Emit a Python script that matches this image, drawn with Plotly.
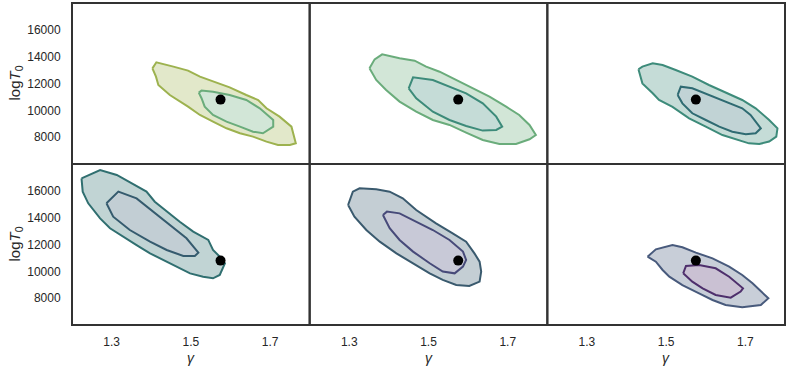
import plotly.graph_objects as go
from plotly.subplots import make_subplots

# ---- data (gamma, T0) ----
best_gamma = [1.575]
best_T0 = [10800]

p1_outer_x = [1.403, 1.413, 1.456, 1.493, 1.523, 1.556, 1.598, 1.640, 1.670, 1.691, 1.724, 1.754, 1.765, 1.750, 1.720, 1.691, 1.657, 1.624, 1.590, 1.556, 1.523, 1.493, 1.472, 1.447, 1.418, 1.412]
p1_outer_y = [13130, 13580, 13260, 12960, 12510, 12140, 11715, 11145, 10770, 10150, 9530, 8785, 7540, 7420, 7420, 7670, 8040, 8290, 8660, 9160, 9655, 10275, 10650, 11145, 11890, 12510]
p1_inner_x = [1.520, 1.527, 1.556, 1.598, 1.640, 1.674, 1.708, 1.708, 1.682, 1.657, 1.624, 1.590, 1.556, 1.535, 1.527]
p1_inner_y = [11320, 11470, 11390, 11145, 10770, 10150, 9280, 8785, 8290, 8410, 8785, 9160, 9655, 10275, 10900]

p2_outer_x = [1.351, 1.364, 1.383, 1.427, 1.465, 1.494, 1.528, 1.570, 1.612, 1.654, 1.696, 1.729, 1.755, 1.771, 1.755, 1.721, 1.679, 1.637, 1.595, 1.553, 1.511, 1.469, 1.427, 1.393, 1.368]
p2_outer_y = [13130, 13800, 14175, 13880, 13700, 13260, 12880, 12260, 11640, 11020, 10275, 9655, 8910, 8160, 7840, 7490, 7490, 7790, 8340, 8910, 9280, 9900, 10650, 11520, 12260]
p2_inner_x = [1.450, 1.461, 1.511, 1.553, 1.595, 1.637, 1.671, 1.686, 1.671, 1.637, 1.595, 1.553, 1.511, 1.469]
p2_inner_y = [11640, 12460, 12260, 11765, 11270, 10520, 9530, 8785, 8540, 8490, 8830, 9280, 9900, 10900]

p3_outer_x = [1.430, 1.440, 1.466, 1.491, 1.524, 1.566, 1.608, 1.650, 1.692, 1.726, 1.760, 1.781, 1.778, 1.760, 1.735, 1.709, 1.676, 1.642, 1.600, 1.558, 1.516, 1.482, 1.466, 1.440]
p3_outer_y = [13060, 13260, 13500, 13380, 13010, 12510, 11890, 11320, 10770, 10150, 9280, 8660, 8040, 7670, 7490, 7540, 7840, 8160, 8785, 9405, 10250, 10770, 11270, 12010]
p3_inner_x = [1.529, 1.537, 1.566, 1.608, 1.650, 1.692, 1.713, 1.739, 1.726, 1.701, 1.667, 1.634, 1.600, 1.566, 1.541]
p3_inner_y = [11145, 11765, 11640, 11145, 10650, 10150, 9655, 8660, 8290, 8210, 8410, 8785, 9280, 9780, 10520]

p4_outer_x = [1.224, 1.271, 1.313, 1.359, 1.388, 1.409, 1.439, 1.472, 1.506, 1.544, 1.556, 1.573, 1.586, 1.573, 1.556, 1.531, 1.498, 1.464, 1.430, 1.397, 1.363, 1.329, 1.296, 1.271, 1.241, 1.227]
p4_outer_y = [16930, 17550, 17180, 16435, 15940, 15190, 14450, 13700, 12960, 12340, 11590, 11095, 10600, 9730, 9480, 9600, 9850, 10350, 10850, 11340, 11960, 12590, 13210, 13950, 15070, 15940]
p4_inner_x = [1.287, 1.317, 1.363, 1.405, 1.447, 1.489, 1.519, 1.510, 1.481, 1.439, 1.397, 1.346, 1.304]
p4_inner_y = [15070, 15940, 15440, 14450, 13450, 12460, 11390, 11145, 11145, 11590, 12210, 13080, 14075]

p5_outer_x = [1.297, 1.309, 1.326, 1.368, 1.402, 1.435, 1.469, 1.519, 1.561, 1.595, 1.616, 1.629, 1.633, 1.629, 1.603, 1.570, 1.536, 1.503, 1.461, 1.419, 1.377, 1.343, 1.313]
p5_outer_y = [14945, 15940, 16190, 16110, 15940, 15440, 14570, 13580, 12830, 12210, 11340, 10720, 9980, 9230, 8910, 8980, 9360, 9850, 10600, 11340, 12210, 13080, 14075]
p5_inner_x = [1.385, 1.395, 1.427, 1.469, 1.511, 1.553, 1.587, 1.595, 1.587, 1.566, 1.536, 1.503, 1.461, 1.427, 1.402]
p5_inner_y = [14200, 14450, 14320, 13700, 13080, 12340, 11470, 10850, 10350, 9850, 9980, 10600, 11470, 12340, 13210]

p6_outer_x = [1.453, 1.474, 1.516, 1.541, 1.575, 1.617, 1.659, 1.692, 1.718, 1.739, 1.758, 1.739, 1.692, 1.650, 1.617, 1.583, 1.541, 1.508, 1.491, 1.474]
p6_outer_y = [11095, 11640, 11960, 11790, 11390, 10970, 10350, 9730, 9110, 8490, 7990, 7490, 7320, 7490, 7865, 8360, 8980, 9600, 10100, 10720]
p6_inner_x = [1.543, 1.550, 1.583, 1.625, 1.659, 1.694, 1.688, 1.663, 1.625, 1.592, 1.566]
p6_inner_y = [9850, 10400, 10470, 10225, 9600, 8735, 8490, 8040, 8240, 8735, 9230]

x_ticks = [1.3, 1.5, 1.7]
y_ticks = [8000, 10000, 12000, 14000, 16000]
x_title = "<i>γ</i>"
y_title = "log<i>T</i><sub>0</sub>"

panels = [
    (p1_outer_x, p1_outer_y, p1_inner_x, p1_inner_y, "#9db24f", "#6aac7b"),
    (p2_outer_x, p2_outer_y, p2_inner_x, p2_inner_y, "#6aac7b", "#3d8b7a"),
    (p3_outer_x, p3_outer_y, p3_inner_x, p3_inner_y, "#3d8b7a", "#2f6b72"),
    (p4_outer_x, p4_outer_y, p4_inner_x, p4_inner_y, "#306f70", "#355b6e"),
    (p5_outer_x, p5_outer_y, p5_inner_x, p5_inner_y, "#3a5a6e", "#474a79"),
    (p6_outer_x, p6_outer_y, p6_inner_x, p6_inner_y, "#485a7c", "#4e2f6c"),
]

ALPHA = 0.3


def tint(hexc, a):
    h = hexc.lstrip("#")
    rgb = [int(h[k:k + 2], 16) for k in (0, 2, 4)]
    r, g, b = [round(255 * (1 - a) + v * a) for v in rgb]
    return f"rgb({r},{g},{b})"


fig = make_subplots(rows=2, cols=3, shared_xaxes=True, shared_yaxes=True,
                    horizontal_spacing=0, vertical_spacing=0)

for i, (ox, oy, ix, iy, co, ci) in enumerate(panels):
    r = i // 3 + 1
    c = i % 3 + 1
    fig.add_trace(go.Scatter(x=ox + [ox[0]], y=oy + [oy[0]], mode="lines", fill="toself",
                             fillcolor=tint(co, ALPHA), line=dict(color=co, width=2),
                             showlegend=False, hoverinfo="skip"), row=r, col=c)
    fig.add_trace(go.Scatter(x=ix + [ix[0]], y=iy + [iy[0]], mode="lines", fill="toself",
                             fillcolor=tint(ci, ALPHA), line=dict(color=ci, width=2),
                             showlegend=False, hoverinfo="skip"), row=r, col=c)
    fig.add_trace(go.Scatter(x=best_gamma, y=best_T0, mode="markers",
                             marker=dict(color="black", size=10),
                             showlegend=False, hoverinfo="skip"), row=r, col=c)

font = dict(family="Liberation Sans, Arial, sans-serif", size=12, color="#262626")

fig.update_xaxes(range=[1.2, 1.8], tickvals=x_ticks, ticktext=[str(v) for v in x_ticks],
                 showgrid=False, zeroline=False, showline=False, automargin=False,
                 ticks="outside", ticklen=6, tickcolor="rgba(0,0,0,0)", tickfont=font)
fig.update_yaxes(range=[6000, 18000], tickvals=y_ticks, ticktext=[str(v) for v in y_ticks],
                 showgrid=False, zeroline=False, showline=False, automargin=False,
                 ticks="outside", ticklen=8, tickcolor="rgba(0,0,0,0)", tickfont=font)

# panel frames
for r in range(1, 3):
    for c in range(1, 4):
        idx = (r - 1) * 3 + c
        xa = fig.layout["xaxis" + ("" if idx == 1 else str(idx))]
        ya = fig.layout["yaxis" + ("" if idx == 1 else str(idx))]
        fig.add_shape(type="rect", xref="paper", yref="paper",
                      x0=xa.domain[0], x1=xa.domain[1], y0=ya.domain[0], y1=ya.domain[1],
                      line=dict(color="#333333", width=2), fillcolor="rgba(0,0,0,0)", layer="above")

# axis titles as annotations
W, H = 789, 372
ML, MR, MT, MB = 72, 4, 3, 47
pw, ph = W - ML - MR, H - MT - MB
for c in range(3):
    fig.add_annotation(text=x_title, xref="paper", yref="paper",
                       x=(c + 0.5) / 3, y=-(358 - (H - MB)) / ph,
                       xanchor="center", yanchor="middle", showarrow=False,
                       font=dict(family=font["family"], size=14, color="#262626"))
for r in range(2):
    fig.add_annotation(text=y_title, xref="paper", yref="paper",
                       x=(15 - ML) / pw, y=1 - (r + 0.5) / 2,
                       xanchor="center", yanchor="middle", textangle=-90, showarrow=False,
                       font=dict(family=font["family"], size=15, color="#262626"))

fig.update_layout(width=W, height=H, margin=dict(l=ML, r=MR, t=MT, b=MB),
                  plot_bgcolor="white", paper_bgcolor="white", font=font)

fig.write_html("out.html", config={"displayModeBar": False},
               post_script="document.body.style.margin='0';")
